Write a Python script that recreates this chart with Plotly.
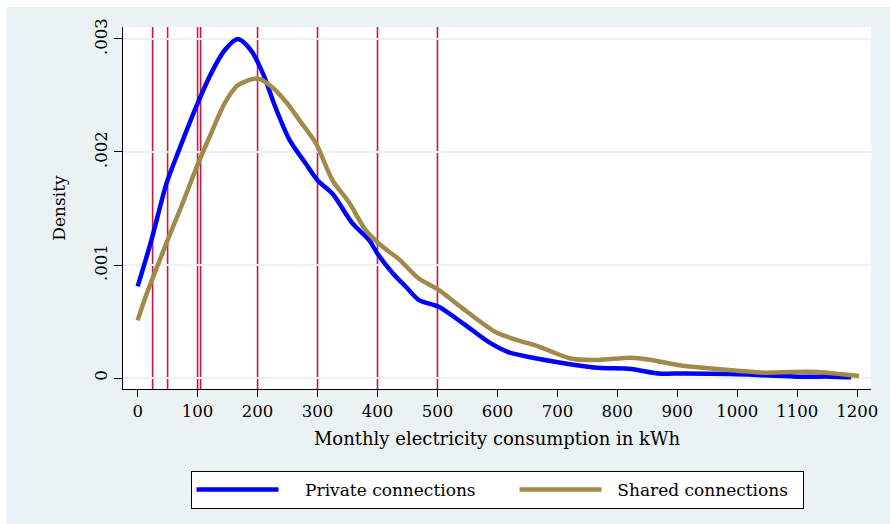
import plotly.graph_objects as go

# Kernel density estimates
private_x = [0, 23, 48, 67, 100, 123, 145, 167, 189, 211, 228, 253, 280, 300, 325, 358,
             386, 400, 425, 447, 469, 502, 546, 585, 618, 668, 724, 768, 823, 868, 912,
             989, 1045, 1100, 1155, 1190]
private_y = [0.00081, 0.00122, 0.00172, 0.00199, 0.00243, 0.00270, 0.00290, 0.00300,
             0.00290, 0.00267, 0.00242, 0.00211, 0.00190, 0.00175, 0.00163, 0.00137,
             0.00122, 0.00110, 0.00093, 0.00081, 0.00069, 0.00063, 0.00047, 0.00032,
             0.00023, 0.00017, 0.00012, 0.00009, 0.00008, 0.00004, 0.00004, 0.000035,
             0.000024, 0.000012, 0.000012, 0.000006]

shared_x = [0, 12, 50, 73, 101, 123, 145, 167, 200, 223, 248, 270, 297, 325, 353, 380,
            402, 436, 469, 499, 546, 596, 630, 668, 724, 768, 823, 856, 901, 951, 1000,
            1045, 1089, 1133, 1172, 1203]
shared_y = [0.00051, 0.00070, 0.00122, 0.00152, 0.00190, 0.00217, 0.00243, 0.00259,
            0.00265, 0.00258, 0.00244, 0.00228, 0.00208, 0.00175, 0.00155, 0.00131,
            0.00119, 0.00105, 0.00088, 0.00079, 0.00060, 0.00041, 0.00034, 0.00028,
            0.00017, 0.00016, 0.00018, 0.00016, 0.000115, 0.000086, 0.000065,
            0.000047, 0.000053, 0.000053, 0.000035, 0.000018]

# Reference thresholds (vertical lines)
threshold_x = [25, 50, 100, 105, 200, 300, 400, 500]

x_ticks = list(range(0, 1300, 100))
y_ticks = [0, 0.001, 0.002, 0.003]
y_ticklabels = ["0", ".001", ".002", ".003"]

series_names = ["Private connections", "Shared connections"]

BG = "#EAF2F3"
FONT = "DejaVu Serif"
NB = "\u00a0"

fig = go.Figure()
fig.add_trace(go.Scatter(x=private_x, y=private_y, mode="lines", name=NB * 4 + series_names[0],
                         legendwidth=226,
                         line=dict(color="#0000FF", width=4.5, shape="spline", smoothing=0.8)))
fig.add_trace(go.Scatter(x=shared_x, y=shared_y, mode="lines", name=NB * 2 + series_names[1],
                         legendwidth=191,
                         line=dict(color="#A08A4A", width=4.5, shape="spline", smoothing=0.8)))

for xv in threshold_x:
    fig.add_vline(x=xv, line=dict(color="#C8173D", width=1.6), layer="below")

# white strips at top/left of the image
fig.add_shape(type="rect", xref="paper", yref="paper", x0=-0.17, x1=-0.1558,
              y0=-0.4, y1=1.08, fillcolor="white", line_width=0, layer="below")
fig.add_shape(type="rect", xref="paper", yref="paper", x0=-0.17, x1=1.1,
              y0=1.0552, y1=1.08, fillcolor="white", line_width=0, layer="below")

fig.update_layout(
    width=890, height=524,
    margin=dict(l=123, r=16, t=27, b=135),
    paper_bgcolor=BG, plot_bgcolor="white",
    font=dict(family=FONT, color="black", size=17),
    showlegend=True,
    legend=dict(orientation="h", x=0.5, xanchor="center", y=-0.2265, yanchor="top",
                bgcolor="white", bordercolor="black", borderwidth=1,
                font=dict(family=FONT, size=17), itemwidth=82),
    xaxis=dict(range=[-24.4, 1223], tickvals=x_ticks, ticks="outside", ticklen=7,
               tickcolor="black", showline=True, linecolor="black", linewidth=1.2,
               showgrid=False, zeroline=False, tickfont=dict(size=16.5),
               title=dict(text="Monthly electricity consumption in kWh",
                          font=dict(size=18), standoff=12)),
    yaxis=dict(range=[-0.0000973, 0.003106], tickvals=y_ticks, ticktext=y_ticklabels,
               tickangle=-90, ticks="outside", ticklen=8, tickcolor="black",
               showline=True, linecolor="black", linewidth=1.2,
               showgrid=True, gridcolor=BG, gridwidth=1.5, zeroline=False,
               tickfont=dict(size=16.5),
               title=dict(text="Density", font=dict(size=17), standoff=22)),
)

fig.write_html("out.html")
